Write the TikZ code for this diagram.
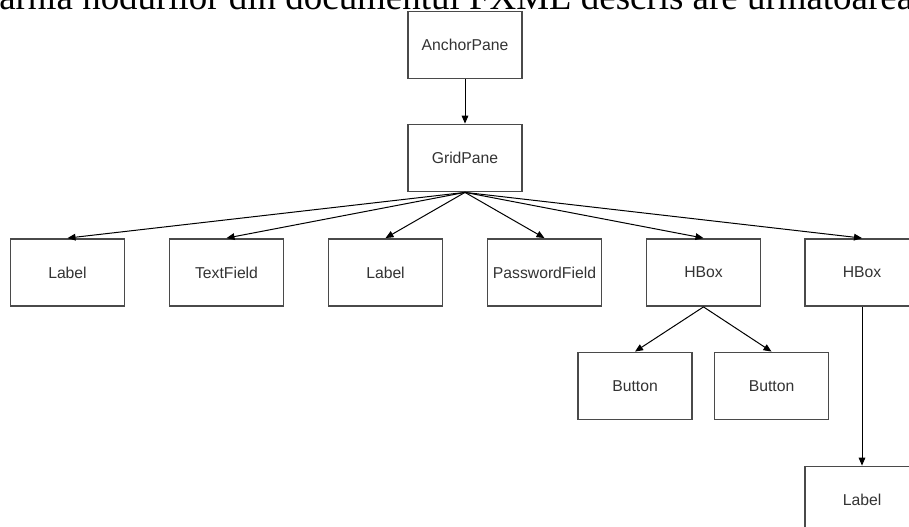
\documentclass[tikz,border=0pt]{standalone}
\usepackage{fontspec}
\setmainfont{Liberation Serif}
\setsansfont{Liberation Sans}
\usetikzlibrary{arrows.meta}
\definecolor{boxline} {HTML}{4A4A4A}
\definecolor{labelink}{HTML}{333333}
\tikzset{
  fxbox/.style ={draw=boxline, fill=white, line width=1.1pt,
                 minimum width=85.5pt, minimum height=50.5pt,
                 inner sep=2pt, align=center, text=labelink,
                 font=\sffamily\fontsize{11.8}{14}\selectfont},
  fxarr/.style ={-{Triangle[length=6pt,width=5pt]}, line width=0.75pt, color=black},
}
\begin{document}
\begin{tikzpicture}[x=0.75pt,y=-0.75pt]
    \useasboundingbox (0,0) rectangle (909,527);
    \clip (0,0) rectangle (909,527);
    \fill[white] (0,0) rectangle (909,527);

    % Cut-off sentence above the tree
    \node[anchor=base west,inner sep=0pt,
          font=\fontsize{27.7}{30}\selectfont] (intro) at (-1,10)
      {\llap{Ier}arhia nodurilor din documentul FXML descris are urmatoarea};

    % Root and grid
    \node[fxbox] (anchor) at (465,45)  {AnchorPane};
    \node[fxbox] (grid)   at (465,158) {GridPane};
    \draw[fxarr] (anchor.south) -- (grid.north);

    % Children of the grid
    \node[fxbox] (lblA)  at (67.5,272.5)  {Label};
    \node[fxbox] (txt)   at (226.5,272.5) {TextField};
    \node[fxbox] (lblB)  at (385.5,272.5) {Label};
    \node[fxbox] (pwd)   at (544.5,272.5) {PasswordField};
    \node[fxbox] (hboxA) at (703.5,272.5) {HBox};
    \node[fxbox] (hboxB) at (862,272.5)   {HBox};
    \foreach \kid in {lblA,txt,lblB,pwd,hboxA,hboxB}
      \draw[fxarr] (grid.south) -- (\kid.north);

    % Buttons of the first HBox
    \node[fxbox] (btnA) at (635,386)   {Button};
    \node[fxbox] (btnB) at (771.5,386) {Button};
    \draw[fxarr] (hboxA.south) -- (btnA.north);
    \draw[fxarr] (hboxA.south) -- (btnB.north);

    % Label of the second HBox
    \node[fxbox] (lblC) at (862,500) {Label};
    \draw[fxarr] (hboxB.south) -- (lblC.north);
\end{tikzpicture}
\end{document}
